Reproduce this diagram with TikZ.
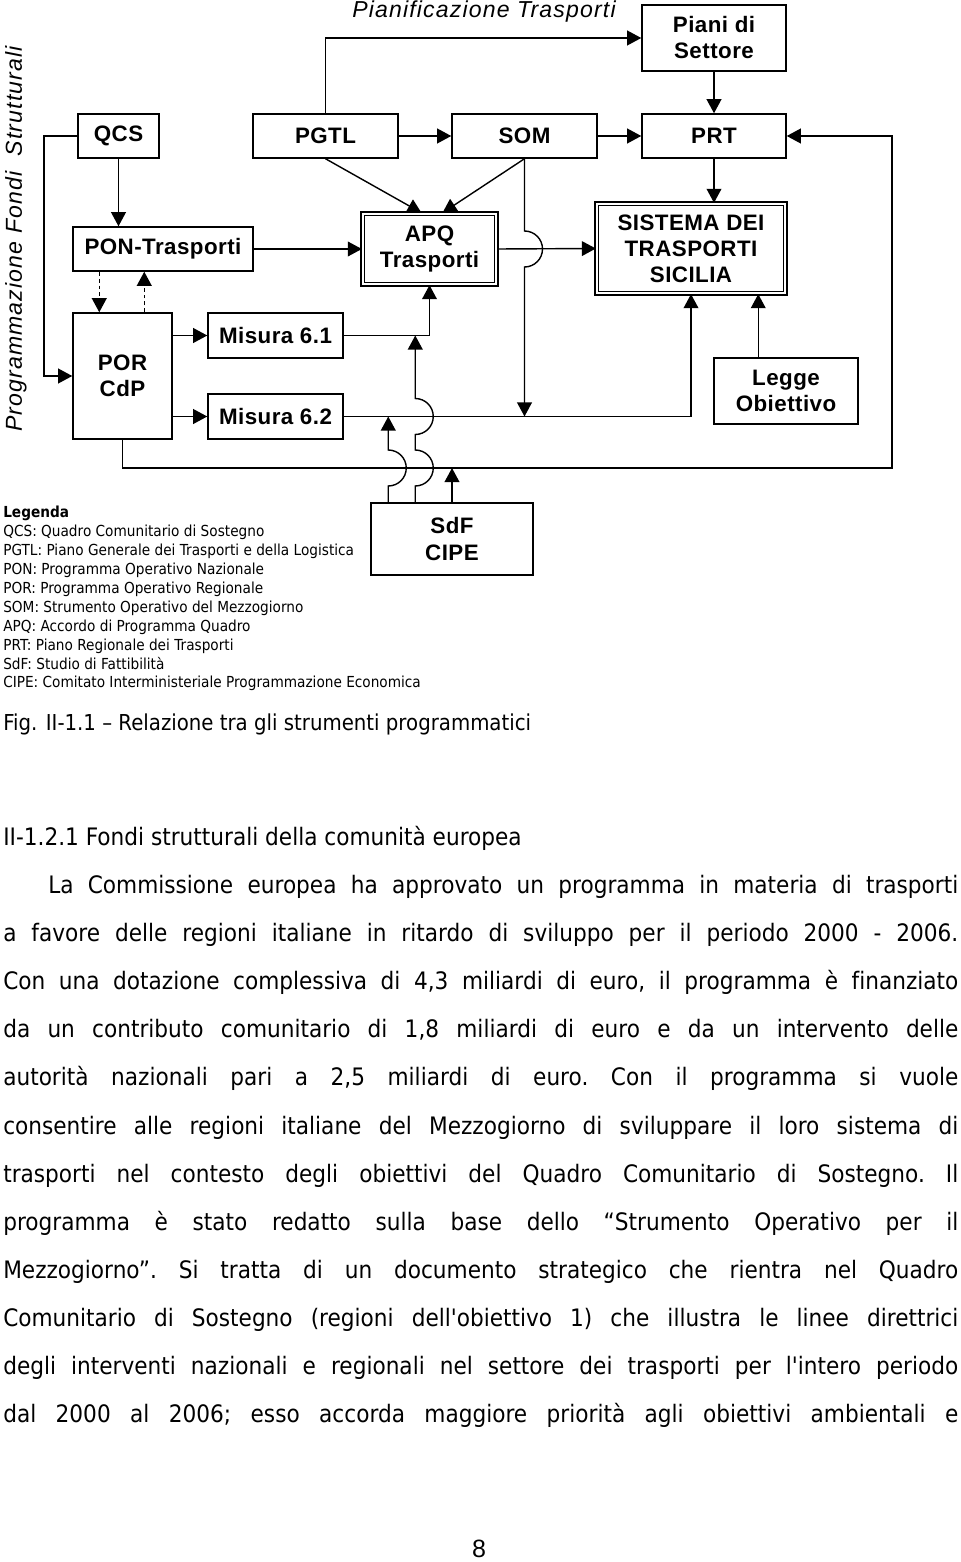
\documentclass[tikz,border=0pt]{standalone}
\usepackage{fontspec}
\setmainfont[FakeStretch=0.9]{DejaVu Sans}
\newfontfamily\docfont[FakeStretch=0.9]{DejaVu Sans}
\newfontfamily\boxfont[LetterSpace=2]{Liberation Sans}
\newfontfamily\titlefont[LetterSpace=5]{Liberation Sans}
\newfontfamily\numfont{Liberation Sans}
\usetikzlibrary{arrows.meta,positioning,calc}
\newlength{\pxu}
\setlength{\pxu}{0.025cm}

\begin{document}
\begin{tikzpicture}[x=0.025cm, y=-0.025cm,
    box/.style={draw, line width=1.05pt, inner sep=0pt, align=center,
      font=\boxfont\bfseries\fontsize{15.9}{18.5}\selectfont},
    dbox/.style={box, double, line width=1.2pt, double distance=1.4pt},
    arr/.style={line width=1pt, -{Triangle[length=10pt,width=10.5pt]}},
    dasharr/.style={arr, dash pattern=on 2.8pt off 2.1pt},
    title/.style={font=\titlefont\itshape\fontsize{16.4}{18}\selectfont}]
  \useasboundingbox (0,0) rectangle (960,1562);

  % boxes
  \node[box, minimum width=144*\pxu, minimum height=66*\pxu] (piani) at (714,38) {Piani di\\Settore};
  \node[box, minimum width=81*\pxu, minimum height=44*\pxu] (qcs) at (118.5,136) {QCS};
  \node[box, minimum width=145*\pxu, minimum height=44*\pxu] (pgtl) at (325.5,136) {PGTL};
  \node[box, minimum width=145*\pxu, minimum height=44*\pxu] (som) at (524.5,136) {SOM};
  \node[box, minimum width=144*\pxu, minimum height=44*\pxu] (prt) at (714,136) {PRT};
  \node[box, minimum width=180*\pxu, minimum height=44*\pxu] (pon) at (163,249) {PON-Trasporti};
  \node[dbox, minimum width=133.6*\pxu, minimum height=70.6*\pxu] (apq) at (429.5,249) {APQ\\Trasporti};
  \node[dbox, minimum width=188.6*\pxu, minimum height=89.6*\pxu] (sist) at (691,248.5) {SISTEMA DEI\\TRASPORTI\\SICILIA};
  \node[box, minimum width=99*\pxu, minimum height=126*\pxu] (por) at (122.5,376) {POR\\CdP};
  \node[box, minimum width=135*\pxu, minimum height=45*\pxu] (misA) at (275.5,335.5) {Misura 6.1};
  \node[box, minimum width=135*\pxu, minimum height=45*\pxu] (misB) at (275.5,416.5) {Misura 6.2};
  \node[box, minimum width=144*\pxu, minimum height=66*\pxu] (legge) at (786,391) {Legge\\Obiettivo};
  \node[box, minimum width=162*\pxu, minimum height=72*\pxu] (sdf) at (452,539) {SdF\\CIPE};

  \node[title, anchor=base] (plan) at (484,18) {Pianificazione Trasporti};
  \node[title, rotate=90] (prog) at (16,239) {Programmazione Fondi\ \ Strutturali};

  \coordinate (qcsL) at (44,136);
  \coordinate (bus) at (892,468);
  \coordinate (lg) at ($(legge.north west)+(45,0)$);
  \coordinate (sA) at ($(sdf.north west)+(18,0)$);
  \coordinate (sB) at ($(sdf.north west)+(45,0)$);

  % connectors
  \draw[arr] (pgtl.north) |- (piani.west);
  \draw[arr] (pgtl.east) -- (som.west);
  \draw[arr] (som.east) -- (prt.west);
  \draw[arr] (piani.south) -- (prt.north);
  \draw[arr] (prt.south) -- (prt.south |- sist.north);
  \draw[arr] (qcs.south) -- (qcs.south |- pon.north);
  \draw[arr] (qcs.west) -- (qcsL) |- (por.west);
  \draw[dasharr] ($(pon.south west)+(27,0)$) -- ($(por.north west)+(27,0)$);
  \draw[dasharr] ($(por.north west)+(72,0)$) -- ($(pon.south west)+(72,0)$);
  \draw[arr] (por.east |- misA.west) -- (misA.west);
  \draw[arr] (por.east |- misB.west) -- (misB.west);
  \draw[arr] (pon.east) -- (apq.west);
  \draw[arr] (misA.east) -| (apq.south);
  \draw[arr] (misB.east) -| (sist.south);
  \draw[arr] (pgtl.south) -- ($(apq.north)+(-8,0)$);
  \draw[arr] (som.south) -- ($(apq.north)+(13,0)$);
  \draw[arr] (apq.east) -- (sist.west);
  \draw[arr] (som.south) -- ($(som.south |- apq.east)+(0,-18)$)
    arc[start angle=-90, end angle=90, radius=18] -- (som.south |- misB.east);
  \draw[arr] (lg) -- (lg |- sist.south);
  \draw[arr] (por.south) |- (bus) |- (prt.east);
  \draw[arr] (sA) -- ($(sA |- bus)+(0,18)$)
    arc[start angle=90, end angle=-90, radius=18] -- (sA |- misB.east);
  \draw[arr] (sB) -- ($(sB |- bus)+(0,18)$)
    arc[start angle=90, end angle=-90, radius=18] -- ($(sB |- misB.east)+(0,18)$)
    arc[start angle=90, end angle=-90, radius=18] -- (sB |- misA.east);
  \draw[arr] (sdf.north) -- (sdf.north |- bus);

  % legend and text
  \node[anchor=north west, align=left, inner sep=0pt, font=\docfont\fontsize{10.8}{13.44}\selectfont] (leg) at (3,506) {%
    \textbf{Legenda}\\
    QCS: Quadro Comunitario di Sostegno\\
    PGTL: Piano Generale dei Trasporti e della Logistica\\
    PON: Programma Operativo Nazionale\\
    POR: Programma Operativo Regionale\\
    SOM: Strumento Operativo del Mezzogiorno\\
    APQ: Accordo di Programma Quadro\\
    PRT: Piano Regionale dei Trasporti\\
    SdF: Studio di Fattibilità\\
    CIPE: Comitato Interministeriale Programmazione Economica};
  \node[anchor=base west, inner sep=0pt, font=\docfont\fontsize{15.6}{18}\selectfont] (cap) at (3,730)
    {Fig. II-1.1 – Relazione tra gli strumenti programmatici};
  \node[anchor=base west, inner sep=0pt, font=\docfont\fontsize{17.1}{34.2}\selectfont] (sec) at (3,845)
    {II-1.2.1 Fondi strutturali della comunità europea};
  \node[anchor=north west, inner sep=0pt, text width=955*\pxu, align=justify,
    font=\docfont\fontsize{17.1}{34.2}\selectfont] (body) at (3,875) {%
    \frenchspacing\hyphenpenalty=10000\tolerance=9999\parfillskip=0pt\relax
    \hspace*{45\pxu}La Commissione europea ha approvato un programma in materia di trasporti\linebreak
    a favore delle regioni italiane in ritardo di sviluppo per il periodo 2000 - 2006.\linebreak
    Con una dotazione complessiva di 4,3 miliardi di euro, il programma è f\kern0pt inanziato\linebreak
    da un contributo comunitario di 1,8 miliardi di euro e da un intervento delle\linebreak
    autorità nazionali pari a 2,5 miliardi di euro. Con il programma si vuole\linebreak
    consentire alle regioni italiane del Mezzogiorno di sviluppare il loro sistema di\linebreak
    trasporti nel contesto degli obiettivi del Quadro Comunitario di Sostegno. Il\linebreak
    programma è stato redatto sulla base dello “Strumento Operativo per il\linebreak
    Mezzogiorno”. Si tratta di un documento strategico che rientra nel Quadro\linebreak
    Comunitario di Sostegno (regioni dell'obiettivo 1) che illustra le linee direttrici\linebreak
    degli interventi nazionali e regionali nel settore dei trasporti per l'intero periodo\linebreak
    dal 2000 al 2006; esso accorda maggiore priorità agli obiettivi ambientali e\par};
  \node[anchor=base, font=\numfont\fontsize{17.8}{20}\selectfont] (pg) at (479,1557) {8};
\end{tikzpicture}
\end{document}
